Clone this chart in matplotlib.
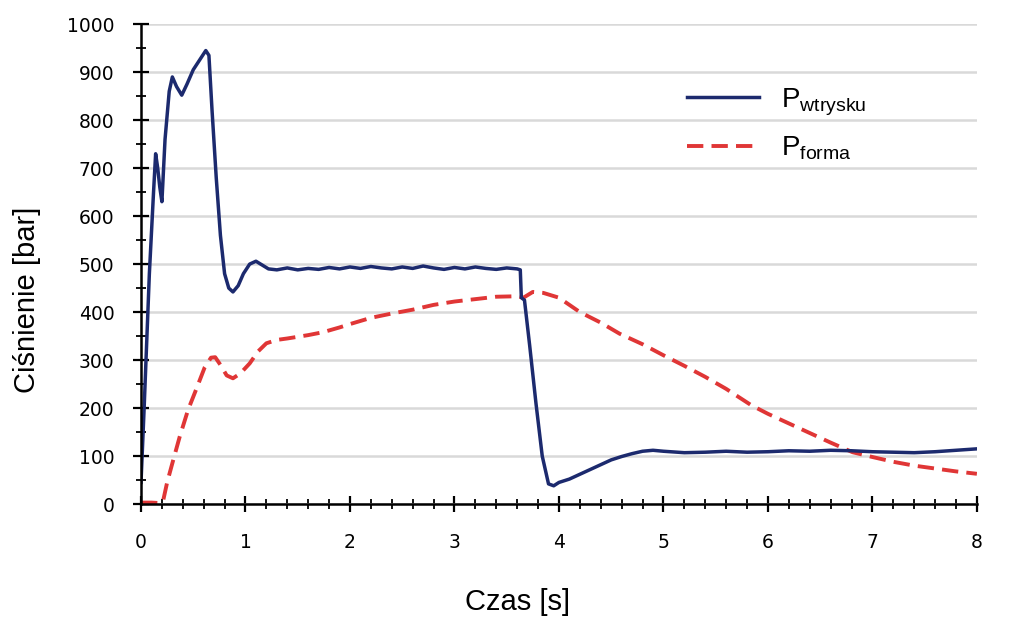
import numpy as np
import matplotlib
matplotlib.use("Agg")
from matplotlib import pyplot as plt
from matplotlib.ticker import MultipleLocator

plt.rcParams['font.family'] = ['Liberation Sans', 'DejaVu Sans']

# P_wtrysku (injection pressure)
t_wtr = [0, 0.03, 0.08, 0.12, 0.14, 0.16, 0.18, 0.20, 0.23, 0.27, 0.30, 0.34, 0.39, 0.44,
         0.50, 0.56, 0.62, 0.65, 0.68, 0.72, 0.76, 0.80, 0.84, 0.88, 0.93, 0.98, 1.04,
         1.10, 1.16, 1.22, 1.30, 1.40, 1.50, 1.60, 1.70, 1.80, 1.90, 2.00, 2.10, 2.20,
         2.30, 2.40, 2.50, 2.60, 2.70, 2.80, 2.90, 3.00, 3.10, 3.20, 3.30, 3.40, 3.50,
         3.60, 3.63, 3.64, 3.67, 3.72, 3.78, 3.84, 3.90, 3.95, 4.00, 4.10, 4.20, 4.30,
         4.40, 4.50, 4.60, 4.70, 4.80, 4.90, 5.00, 5.20, 5.40, 5.60, 5.80, 6.00, 6.20,
         6.40, 6.60, 6.80, 7.00, 7.20, 7.40, 7.60, 7.80, 8.00]
p_wtr = [45, 200, 480, 650, 730, 700, 660, 630, 760, 860, 890, 870, 852, 875,
         905, 925, 945, 935, 820, 680, 560, 480, 450, 442, 455, 480, 500,
         506, 498, 490, 488, 492, 488, 491, 489, 493, 490, 494, 491, 495,
         492, 490, 494, 491, 496, 492, 489, 493, 490, 494, 491, 489, 492,
         490, 488, 430, 425, 330, 210, 100, 42, 38, 45, 52, 62, 72,
         82, 92, 99, 105, 110, 112, 110, 107, 108, 110, 108, 109, 111,
         110, 112, 111, 109, 108, 107, 109, 112, 115]

# P_forma (mould pressure)
t_frm = [0, 0.10, 0.18, 0.21, 0.25, 0.30, 0.37, 0.45, 0.53, 0.61, 0.67, 0.71, 0.76, 0.82,
         0.88, 0.95, 1.04, 1.12, 1.20, 1.30, 1.40, 1.60, 1.74, 1.90, 2.00, 2.20, 2.40,
         2.60, 2.80, 3.00, 3.20, 3.40, 3.60, 3.66, 3.75, 3.85, 4.00, 4.20, 4.40, 4.58,
         4.80, 5.00, 5.20, 5.40, 5.60, 5.84, 6.00, 6.20, 6.40, 6.60, 6.81, 7.00, 7.20,
         7.40, 7.60, 7.80, 8.00]
p_frm = [3, 3, 2, 5, 45, 85, 140, 196, 240, 285, 305, 306, 290, 268,
         262, 272, 293, 318, 335, 342, 345, 352, 358, 368, 375, 388, 397,
         405, 415, 422, 427, 432, 433, 430, 442, 440, 430, 400, 378, 355,
         333, 310, 288, 265, 240, 206, 188, 168, 148, 128, 108, 98, 88,
         80, 74, 68, 63]

fig = plt.figure(figsize=(10.24, 6.36), dpi=100)
ax = fig.add_axes([0.1377, 0.2075, 0.8163, 0.7545])

ax.plot(t_wtr, p_wtr, color='#1c2a6e', lw=2.5, label='P$_\\mathregular{wtrysku}$', zorder=3)
ax.plot(t_frm, p_frm, color='#e03636', lw=2.8, dashes=(4.2, 2.1), label='P$_\\mathregular{forma}$', zorder=2)

ax.set_xlim(0, 8)
ax.set_ylim(0, 1000)
ax.xaxis.set_major_locator(MultipleLocator(1))
ax.xaxis.set_minor_locator(MultipleLocator(0.2))
ax.yaxis.set_major_locator(MultipleLocator(100))
ax.yaxis.set_minor_locator(MultipleLocator(50))
ax.grid(axis='y', which='major', color='#d9d9d9', lw=1.8)
ax.set_axisbelow(True)

for s in ['top', 'right']:
    ax.spines[s].set_visible(False)
for s in ['left', 'bottom']:
    ax.spines[s].set_linewidth(1.8)
    ax.spines[s].set_zorder(4)

ax.tick_params(which='major', direction='inout', length=12, width=1.6, labelsize=13.5)
ax.tick_params(which='minor', direction='inout', length=7, width=1.3)
ax.tick_params(axis='x', which='major', pad=15)
ax.tick_params(axis='y', which='major', pad=13)
for lab in ax.get_xticklabels() + ax.get_yticklabels():
    lab.set_family(['DejaVu Sans'])

ax.set_xlabel('Czas [s]', fontsize=21)
ax.set_ylabel('Ciśnienie [bar]', fontsize=21)
ax.xaxis.set_label_coords(0.451, -0.175)
ax.yaxis.set_label_coords(-0.12, 0.425)

leg = ax.legend(loc='upper left', bbox_to_anchor=(0.623, 0.923), frameon=False,
                fontsize=20, handlelength=2.6, handletextpad=0.8, labelspacing=0.6)

fig.savefig('out.png', dpi=100)
